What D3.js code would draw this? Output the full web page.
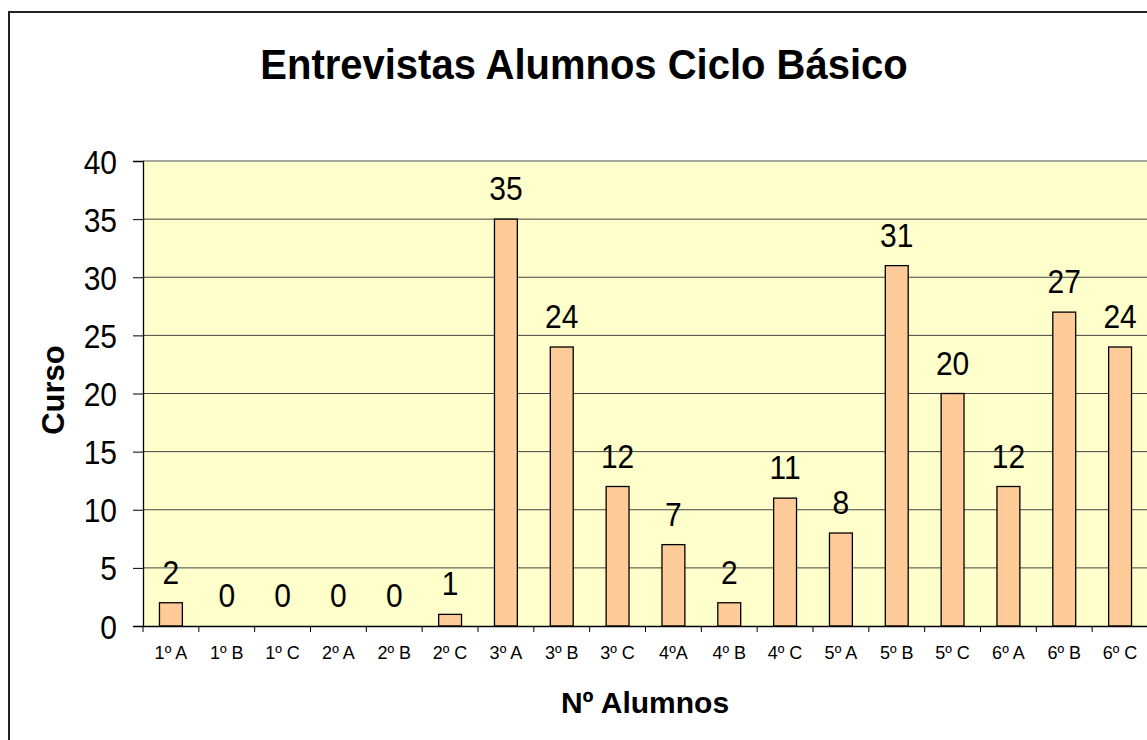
<!DOCTYPE html>
<html><head><meta charset="utf-8">
<script src="https://cdn.jsdelivr.net/npm/d3@7"></script>
<style>body{margin:0;background:#fff;overflow:hidden}svg{display:block}text{font-family:Arial,"Liberation Sans",sans-serif}</style>
</head><body>
<script>
const categories = ["1º A","1º B","1º C","2º A","2º B","2º C","3º A","3º B","3º C","4ºA","4º B","4º C","5º A","5º B","5º C","6º A","6º B","6º C"];
const values = [2,0,0,0,0,1,35,24,12,7,2,11,8,31,20,12,27,24];
const yTicks = [0,5,10,15,20,25,30,35,40];
const title = "Entrevistas Alumnos Ciclo Básico";
const yTitle = "Curso";
const xTitle = "Nº Alumnos";

(function(){
const W = 1147, H = 740;
const svg = d3.select("body").append("svg").attr("width", W).attr("height", H);

// outer chart border
svg.append("rect").attr("x", 9).attr("y", 12).attr("width", 1200).attr("height", 800)
  .attr("fill", "#fff").attr("stroke", "#222").attr("stroke-width", 2);

const pL = 143, pR = 1148, pT = 161, pB = 626;
const x = d3.scaleBand().domain(categories).range([pL, pR]).padding(0);
const y = d3.scaleLinear().domain([0, 40]).range([pB, pT]);

// plot background
svg.append("rect").attr("x", pL).attr("y", pT).attr("width", pR - pL).attr("height", pB - pT)
  .attr("fill", "#FFFFCC");
svg.append("line").attr("x1", pL).attr("x2", pR).attr("y1", pT).attr("y2", pT)
  .attr("stroke", "#888").attr("stroke-width", 1.5);

// gridlines
svg.append("g").selectAll("line").data(yTicks.filter(d => d > 0 && d < 40)).join("line")
  .attr("x1", pL).attr("x2", pR).attr("y1", d => y(d)).attr("y2", d => y(d))
  .attr("stroke", "#444").attr("stroke-width", 1);

// bars
const bw = x.bandwidth() * 0.41;
svg.append("g").selectAll("rect").data(values).join("rect")
  .attr("x", (d, i) => x(categories[i]) + (x.bandwidth() - bw) / 2)
  .attr("y", d => y(d))
  .attr("width", bw)
  .attr("height", d => y(0) - y(d))
  .attr("fill", "#FFCC99").attr("stroke", "#000").attr("stroke-width", 1.3);

// data labels
svg.append("g").selectAll("text").data(values).join("text")
  .attr("transform", (d, i) => `translate(${x(categories[i]) + x.bandwidth() / 2},${y(d) - 19}) scale(1,1.12)`)
  .attr("text-anchor", "middle").attr("font-size", 30).attr("fill", "#000")
  .text(d => d);

// y axis
const yAxis = d3.axisLeft(y).tickValues(yTicks).tickSize(10).tickPadding(16);
const gy = svg.append("g").attr("transform", `translate(${pL},0)`).call(yAxis);
gy.select(".domain").attr("stroke", "#000").attr("stroke-width", 1.3);
gy.selectAll(".tick line").attr("stroke", "#000");
gy.selectAll(".tick text").attr("font-size", 30).attr("fill", "#000").attr("dy", "0.36em")
  .attr("transform", "scale(1,1.12)")
  .style("font-family", "Arial, 'Liberation Sans', sans-serif");

// x axis
const xAxis = d3.axisBottom(x).tickSize(0).tickPadding(20);
const gx = svg.append("g").attr("transform", `translate(0,${pB})`).call(xAxis);
gx.select(".domain").attr("stroke", "#000").attr("stroke-width", 1.3);
gx.selectAll(".tick text").attr("font-size", 18).attr("fill", "#000")
  .style("font-family", "Arial, 'Liberation Sans', sans-serif");
gx.append("g").selectAll("line").data(categories).join("line")
  .attr("x1", d => x(d)).attr("x2", d => x(d)).attr("y1", 0).attr("y2", 6)
  .attr("stroke", "#000").attr("stroke-width", 1);

// titles
svg.append("text").attr("transform", "translate(584,79) scale(1,1.05)").attr("text-anchor", "middle")
  .attr("font-size", 40).attr("font-weight", "bold").text(title);
svg.append("text").attr("transform", "translate(64,390) rotate(-90)").attr("text-anchor", "middle")
  .attr("font-size", 31).attr("font-weight", "bold").text(yTitle);
svg.append("text").attr("x", 645).attr("y", 713).attr("text-anchor", "middle")
  .attr("font-size", 30).attr("font-weight", "bold").text(xTitle);
})();
</script>
</body></html>
